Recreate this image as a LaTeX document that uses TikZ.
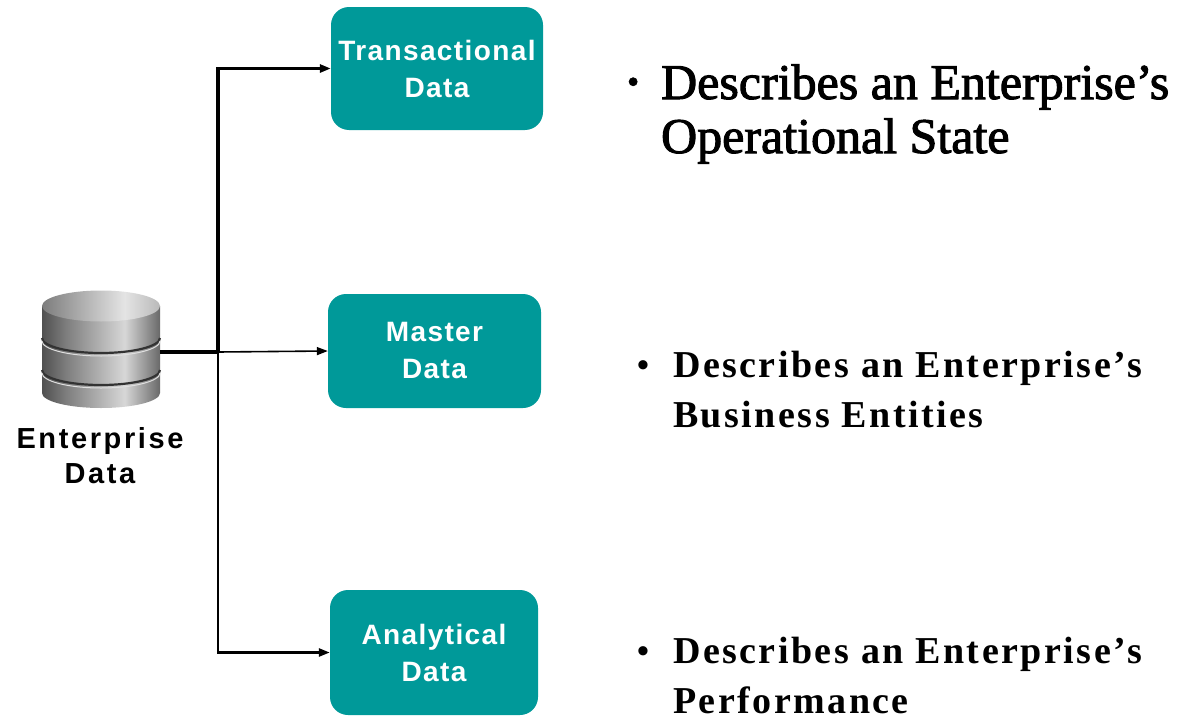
\documentclass[tikz,border=0pt]{standalone}
\usepackage{fontspec}
\setmainfont{Liberation Serif}
\newfontfamily\boxfont[LetterSpace=5]{Liberation Sans}
\newfontfamily\labfont[LetterSpace=9]{Liberation Sans}
\newfontfamily\descafont[FakeBold=2]{Liberation Serif}
\newfontfamily\descbfont[LetterSpace=6.5]{Liberation Serif}
\usetikzlibrary{arrows.meta}
\definecolor{tealbox}{RGB}{0,153,153}
\definecolor{cylA}{RGB}{80,80,80}
\definecolor{cylB}{RGB}{125,125,125}
\definecolor{cylC}{RGB}{215,215,215}
\definecolor{cylD}{RGB}{105,105,105}
\definecolor{cylT1}{RGB}{125,125,125}
\definecolor{cylT2}{RGB}{228,228,228}
\definecolor{cylT3}{RGB}{185,185,185}
\pgfdeclarehorizontalshading{cylbody}{100bp}{color(0bp)=(cylA); color(25bp)=(cylA); color(35bp)=(cylB); color(60bp)=(cylC); color(75bp)=(cylD); color(100bp)=(cylD)}
\pgfdeclarehorizontalshading{cyltop}{100bp}{color(0bp)=(cylT1); color(25bp)=(cylT1); color(60bp)=(cylT2); color(75bp)=(cylT3); color(100bp)=(cylT3)}
\newcommand\mybul[1]{\raisebox{#1}{\fontsize{34pt}{34pt}\selectfont\textbullet}}
\begin{document}
\begin{tikzpicture}[x=1pt,y=-1pt,
  databox/.style={fill=tealbox, rounded corners=18pt, text=white, inner sep=0pt,
    font=\boxfont\bfseries\fontsize{28pt}{37pt}\selectfont, align=center},
  desc/.style={inner sep=0pt, anchor=base west},
  dblabel/.style={inner sep=0pt, anchor=base, font=\labfont\bfseries\fontsize{29pt}{35pt}\selectfont},
  conn/.style={draw=black, line join=miter, -{Triangle[length=11pt,width=8pt]}},
  cylline/.style={draw=black!80, line width=2.2pt}]
\useasboundingbox (0,0) rectangle (1187,720);
\fill[white] (0,0) rectangle (1187,720);
% database
\node[minimum width=118pt, minimum height=118pt, inner sep=0pt] (db) at (101,349) {};
\shade[shading=cylbody] (42,306) -- (42,393) arc[start angle=180,end angle=0,x radius=59,y radius=15] -- (160,306) -- cycle;
\draw[cylline] (42,338) arc[start angle=180,end angle=0,x radius=59,y radius=15];
\draw[cylline] (42,370) arc[start angle=180,end angle=0,x radius=59,y radius=15];
\draw[white!75!gray, line width=1pt] (42,341) arc[start angle=180,end angle=0,x radius=59,y radius=15];
\draw[white!75!gray, line width=1pt] (42,373) arc[start angle=180,end angle=0,x radius=59,y radius=15];
\shade[shading=cyltop] (101,306) ellipse[x radius=59, y radius=15.5];
\node[dblabel] (dbl) at (100,448) {\begin{tabular}[t]{@{}c@{}}Enterprise\\Data\end{tabular}};
% boxes
\node[databox, minimum width=212pt, minimum height=123pt] (trans) at (437,68.5) {Transactional\\Data};
\node[databox, minimum width=213pt, minimum height=114pt] (master) at (434.5,351) {Master\\Data};
\node[databox, minimum width=208pt, minimum height=125pt] (anal) at (434,652.5) {Analytical\\Data};
% connectors
\coordinate (j) at (218,352);
\draw[line width=3.5pt] (db.east |- j) -- (j);
\draw[conn, line width=3.5pt] (j) |- (trans.west);
\draw[conn, line width=1.6pt] (j) -- (master.west);
\draw[conn, line width=2.5pt] (j) |- (anal.west);
% descriptions
\node[desc] (d1) at (627,99) {\descafont\fontsize{50pt}{54pt}\selectfont\begin{tabular}[t]{@{}l@{\hspace{22pt}}l@{}}\mybul{6pt} & Describes an Enterprise’s\\ & Operational State\end{tabular}};
\node[desc] (d2) at (637,377) {\descbfont\bfseries\fontsize{38pt}{50pt}\selectfont\begin{tabular}[t]{@{}l@{\hspace{24pt}}l@{}}\mybul{1pt} & Describes an Enterprise’s\\ & Business Entities\end{tabular}};
\node[desc] (d3) at (637,663) {\descbfont\bfseries\fontsize{38pt}{50pt}\selectfont\begin{tabular}[t]{@{}l@{\hspace{24pt}}l@{}}\mybul{1pt} & Describes an Enterprise’s\\ & Performance\end{tabular}};
\end{tikzpicture}
\end{document}
